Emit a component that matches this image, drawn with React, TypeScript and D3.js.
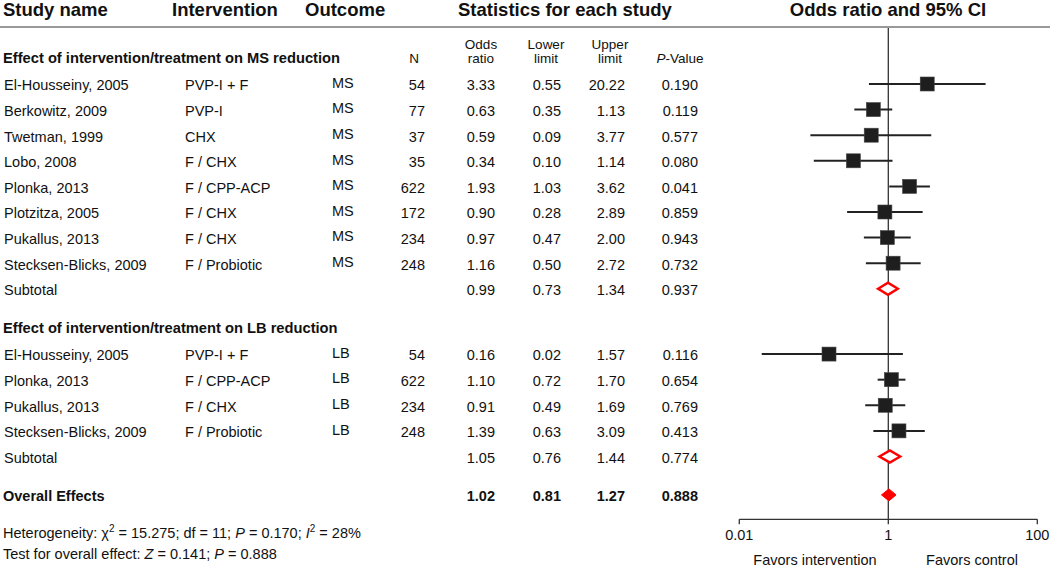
import React from 'react';
import * as d3 from 'd3';

// ---------- data ----------
const studyNames = [
  'El-Housseiny, 2005', 'Berkowitz, 2009', 'Twetman, 1999', 'Lobo, 2008',
  'Plonka, 2013', 'Plotzitza, 2005', 'Pukallus, 2013', 'Stecksen-Blicks, 2009',
  'El-Housseiny, 2005', 'Plonka, 2013', 'Pukallus, 2013', 'Stecksen-Blicks, 2009',
];
const interventions = [
  'PVP-I + F', 'PVP-I', 'CHX', 'F / CHX', 'F / CPP-ACP', 'F / CHX', 'F / CHX', 'F / Probiotic',
  'PVP-I + F', 'F / CPP-ACP', 'F / CHX', 'F / Probiotic',
];
const outcomes = ['MS', 'MS', 'MS', 'MS', 'MS', 'MS', 'MS', 'MS', 'LB', 'LB', 'LB', 'LB'];
const sampleSizes = [54, 77, 37, 35, 622, 172, 234, 248, 54, 622, 234, 248];
const oddsRatios = [3.33, 0.63, 0.59, 0.34, 1.93, 0.9, 0.97, 1.16, 0.16, 1.1, 0.91, 1.39];
const lowerLimits = [0.55, 0.35, 0.09, 0.1, 1.03, 0.28, 0.47, 0.5, 0.02, 0.72, 0.49, 0.63];
const upperLimits = [20.22, 1.13, 3.77, 1.14, 3.62, 2.89, 2.0, 2.72, 1.57, 1.7, 1.69, 3.09];
const pValues = ['0.190', '0.119', '0.577', '0.080', '0.041', '0.859', '0.943', '0.732', '0.116', '0.654', '0.769', '0.413'];

const groupKeys = ['MS', 'LB'];
const groupTitles = [
  'Effect of intervention/treatment on MS reduction',
  'Effect of intervention/treatment on LB reduction',
];
const subtotalOR = [0.99, 1.05];
const subtotalLower = [0.73, 0.76];
const subtotalUpper = [1.34, 1.44];
const subtotalP = ['0.937', '0.774'];

const overallOR = 1.02;
const overallLower = 0.81;
const overallUpper = 1.27;
const overallP = '0.888';

const axisTicks = [0.01, 1, 100];
const axisTickLabels = ['0.01', '1', '100'];

// ---------- layout ----------
const W = 1050;
const H = 567;
const FONT = "'Liberation Sans', Arial, Helvetica, sans-serif";
const BODY = 14.5;
const HEAD = 18.5;

const col = {
  name: 4,
  inter: 185,
  outcome: 332,
  n: 425,
  or: 495,
  low: 561,
  up: 625,
  p: 698,
};

const x = d3.scaleLog().domain([0.01, 100]).range([739.3, 1037.3]);
const y = d3.scaleLinear().domain([0, 1]).range([84, 109.6]);
const groupStart = [0, 10.55];
const overallSlot = 16.05;
const axisY = 519.3;
const fmt = d3.format('.2f');
const BASE = 6.3;

function Diamond({ or, lo, hi, cy, filled }: { or: number; lo: number; hi: number; cy: number; filled: boolean }) {
  const h = 6;
  const pts = [
    [x(lo), cy],
    [x(or), cy - h],
    [x(hi), cy],
    [x(or), cy + h],
  ];
  return (
    <polygon
      points={pts.map((p) => p.join(',')).join(' ')}
      fill={filled ? '#ff0000' : '#ffffff'}
      stroke="#ff0000"
      strokeWidth={filled ? 1 : 2.5}
      strokeLinejoin="miter"
    />
  );
}

function StatCells({ cy, or, lo, hi, p, bold }: { cy: number; or: number; lo: number; hi: number; p: string; bold?: boolean }) {
  const fw = bold ? 'bold' : 'normal';
  const by = cy + BASE;
  return (
    <g fontWeight={fw} textAnchor="end">
      <text x={col.or} y={by}>{fmt(or)}</text>
      <text x={col.low} y={by}>{fmt(lo)}</text>
      <text x={col.up} y={by}>{fmt(hi)}</text>
      <text x={col.p} y={by}>{p}</text>
    </g>
  );
}

export default function App() {
  const groups = groupKeys.map((key, g) => {
    const idx = outcomes.map((o, i) => (o === key ? i : -1)).filter((i) => i >= 0);
    return { key, g, idx };
  });

  return (
    <svg
      width={W}
      height={H}
      viewBox={`0 0 ${W} ${H}`}
      style={{ position: 'absolute', left: 0, top: 0, background: '#fff' }}
      fontFamily={FONT}
      fontSize={BODY}
      fill="#111"
    >
      <rect x={0} y={0} width={W} height={H} fill="#fff" />

      {/* top headers */}
      <g fontWeight="bold" fontSize={HEAD}>
        <text x={3} y={16}>Study name</text>
        <text x={172} y={16}>Intervention</text>
        <text x={305} y={16}>Outcome</text>
        <text x={458} y={16}>Statistics for each study</text>
        <text x={888} y={16} textAnchor="middle">Odds ratio and 95% CI</text>
      </g>
      <line x1={0} x2={W} y1={27} y2={27} stroke="#999" strokeWidth={2} />

      {/* column sub headers */}
      <g fontSize={13.5} textAnchor="middle">
        <text x={414} y={62.5}>N</text>
        <text x={481} y={48.5}>Odds</text>
        <text x={481} y={62.5}>ratio</text>
        <text x={546} y={48.5}>Lower</text>
        <text x={546} y={62.5}>limit</text>
        <text x={610} y={48.5}>Upper</text>
        <text x={610} y={62.5}>limit</text>
        <text x={680} y={62.5}>
          <tspan fontStyle="italic">P</tspan>-Value
        </text>
      </g>

      {/* reference line */}
      <line x1={x(1)} x2={x(1)} y1={28} y2={axisY} stroke="#333" strokeWidth={1.3} />

      {groups.map(({ key, g, idx }) => {
        const s0 = groupStart[g];
        return (
          <g key={key}>
            <text x={3} y={y(s0 - 1.08) + BASE} fontWeight="bold" fontSize={14.7}>
              {groupTitles[g]}
            </text>
            {idx.map((i, k) => {
              const cy = y(s0 + k);
              return (
                <g key={i}>
                  <text x={col.name} y={cy + BASE}>{studyNames[i]}</text>
                  <text x={col.inter} y={cy + BASE}>{interventions[i]}</text>
                  <text x={col.outcome} y={cy + BASE - 2.5}>{outcomes[i]}</text>
                  <text x={col.n} y={cy + BASE} textAnchor="end">{sampleSizes[i]}</text>
                  <StatCells cy={cy} or={oddsRatios[i]} lo={lowerLimits[i]} hi={upperLimits[i]} p={pValues[i]} />
                  <line x1={x(lowerLimits[i])} x2={x(upperLimits[i])} y1={cy} y2={cy} stroke="#222" strokeWidth={2} />
                  <rect
                    x={x(oddsRatios[i]) - 7}
                    y={cy - 7}
                    width={14}
                    height={14}
                    fill="#1e1e1e"
                    stroke="#444"
                    strokeWidth={0.6}
                  />
                </g>
              );
            })}
            {(() => {
              const cy = y(s0 + idx.length);
              return (
                <g>
                  <text x={col.name} y={cy + BASE}>Subtotal</text>
                  <StatCells cy={cy} or={subtotalOR[g]} lo={subtotalLower[g]} hi={subtotalUpper[g]} p={subtotalP[g]} />
                  <Diamond or={subtotalOR[g]} lo={subtotalLower[g]} hi={subtotalUpper[g]} cy={cy} filled={false} />
                </g>
              );
            })()}
          </g>
        );
      })}

      {/* overall */}
      {(() => {
        const cy = y(overallSlot);
        return (
          <g>
            <text x={3} y={cy + BASE} fontWeight="bold">Overall Effects</text>
            <StatCells cy={cy} or={overallOR} lo={overallLower} hi={overallUpper} p={overallP} bold />
            <Diamond or={overallOR} lo={overallLower} hi={overallUpper} cy={cy} filled />
          </g>
        );
      })()}

      {/* axis */}
      <g>
        <line x1={x(0.01)} x2={x(100)} y1={axisY} y2={axisY} stroke="#333" strokeWidth={1.3} />
        {axisTicks.map((t, i) => (
          <g key={t}>
            <line x1={x(t)} x2={x(t)} y1={axisY} y2={axisY + 5} stroke="#333" strokeWidth={1.3} />
            <text x={x(t)} y={540} textAnchor="middle">{axisTickLabels[i]}</text>
          </g>
        ))}
        <text x={815} y={565} textAnchor="middle">Favors intervention</text>
        <text x={972} y={565} textAnchor="middle">Favors control</text>
      </g>

      {/* footnotes */}
      <text x={3} y={537.5}>
        Heterogeneity: χ
        <tspan fontSize={10} dy={-6}>2</tspan>
        <tspan dy={6}> = 15.275; df = 11; </tspan>
        <tspan fontStyle="italic">P</tspan>
        <tspan> = 0.170; </tspan>
        <tspan fontStyle="italic">I</tspan>
        <tspan fontSize={10} dy={-6}>2</tspan>
        <tspan dy={6}> = 28%</tspan>
      </text>
      <text x={3} y={558.5}>
        Test for overall effect: <tspan fontStyle="italic">Z</tspan> = 0.141; <tspan fontStyle="italic">P</tspan> = 0.888
      </text>
    </svg>
  );
}
